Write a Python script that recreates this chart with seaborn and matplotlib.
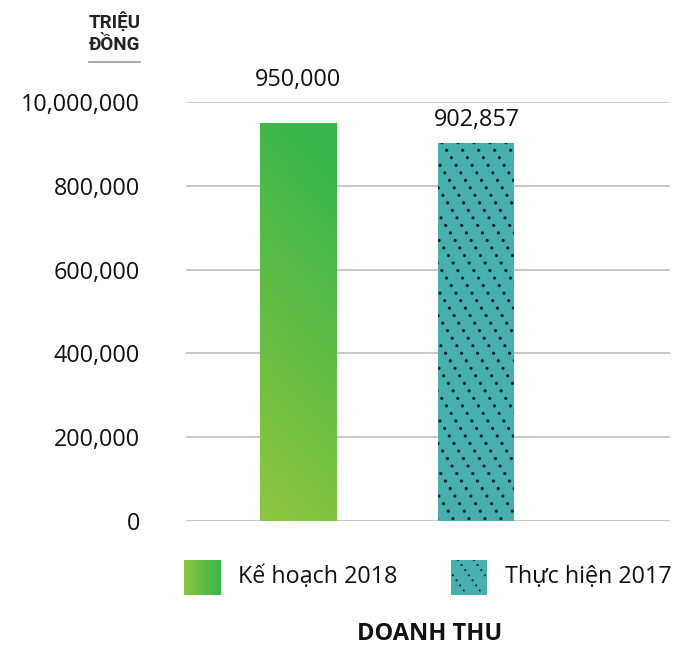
import numpy as np
import pandas as pd
import matplotlib
matplotlib.use("Agg")
import matplotlib.pyplot as plt
import seaborn as sns
from matplotlib.patches import Rectangle

# Data
categories = ["Kế hoạch 2018", "Thực hiện 2017"]
values = [950000, 902857]
value_labels = ["950,000", "902,857"]
ytick_values = [0, 200000, 400000, 600000, 800000, 1000000]
ytick_labels = ["0", "200,000", "400,000", "600,000", "800,000", "10,000,000"]
unit_label = "TRIỆU\nĐỒNG"
x_title = "DOANH THU"

GREEN_DARK = np.array([0x39, 0xB5, 0x4A]) / 255
GREEN_LIGHT = np.array([0x8D, 0xC6, 0x3F]) / 255
TEAL = "#47B0AE"
DOT = "#102826"
FONT = ["Open Sans", "DejaVu Sans"]
FS = 16.8

sns.set_theme(style="white")
plt.rcParams["font.family"] = FONT

W, H = 678, 649
fig = plt.figure(figsize=(W / 100, H / 100), dpi=100)
ax = fig.add_axes([186 / W, 1 - 521 / H, (670 - 186) / W, (521 - 102) / H])

df = pd.DataFrame({"cat": categories, "val": values})
sns.barplot(data=df, x="cat", y="val", ax=ax, width=0.426,
            palette=[TEAL, TEAL], hue="cat", legend=False, saturation=1)

ax.set_xlim(-0.627, 2.084)
ax.set_ylim(0, 1000000)
ax.set_yticks(ytick_values)
ax.set_yticklabels(ytick_labels, fontsize=FS, color="#111111")
ax.tick_params(axis="y", length=0, pad=33)
ax.set_xticks([])
ax.set_xlabel("")
ax.set_ylabel("")
for s in ax.spines.values():
    s.set_visible(False)
ax.grid(axis="y", color="#C8C8C8", linewidth=1.4)
ax.set_axisbelow(True)


def gradient_img(n=200, diagonal=True):
    yy, xx = np.mgrid[0:1:n * 1j, 0:1:n * 1j]
    if diagonal:
        t = np.clip(0.95 * yy + 0.2 * (1 - xx) - 0.12, 0, 1)
    else:
        t = 1 - xx
    img = GREEN_DARK[None, None, :] * (1 - t[..., None]) + GREEN_LIGHT[None, None, :] * t[..., None]
    return img


def dotted_hatch(target_ax, patch, spacing=16, slope=1.6, lw=2.4, gap=2.65):
    """Diagonal dotted lines clipped to a patch (display-pixel geometry)."""
    fig.canvas.draw()
    bb = patch.get_window_extent()
    inv = target_ax.transData.inverted()
    h = bb.height
    x0 = bb.x0 - h / slope - spacing
    xs = np.arange(x0, bb.x1 + spacing, spacing)
    for xs0 in xs:
        p1 = (xs0, bb.y1)
        p2 = (xs0 + h / slope, bb.y0)
        d = inv.transform([p1, p2])
        ln, = target_ax.plot(d[:, 0], d[:, 1], color=DOT, linewidth=lw,
                             dashes=(0.01, gap), dash_capstyle="round", zorder=3)
        ln.set_clip_path(patch)


bars = ax.patches
# green gradient on first bar
b0 = bars[0]
b0.set_facecolor("none")
b0.set_edgecolor("none")
x0b, y0b = b0.get_x(), b0.get_y()
im = ax.imshow(gradient_img(), extent=[x0b, x0b + b0.get_width(), y0b, y0b + b0.get_height()],
               origin="upper", aspect="auto", zorder=2)
im.set_clip_path(b0)
ax.set_xlim(-0.627, 2.084)
ax.set_ylim(0, 1000000)

# dotted hatch on second bar
bars[1].set_edgecolor("none")
dotted_hatch(ax, bars[1])

# value labels
offsets = [22, 8]
for b, lab, off in zip(bars, value_labels, offsets):
    ax.annotate(lab, (b.get_x() + b.get_width() / 2, b.get_height()),
                xytext=(0, off), textcoords="offset points",
                ha="center", va="bottom", fontsize=FS, color="#111111")

# unit label with underline
fig.text(115 / W, 1 - 33 / H, unit_label, ha="center", va="center",
         fontsize=13.5, fontweight="bold", color="#222222", linespacing=1.25,
         family=["Roboto", "DejaVu Sans"], stretch="condensed")
fig.add_artist(plt.Line2D([89 / W, 140 / W], [1 - 62 / H, 1 - 62 / H],
                          color="#AAAAAA", linewidth=1.5, transform=fig.transFigure))

# legend swatches
sw1 = fig.add_axes([184 / W, 1 - 595 / H, 36 / W, 35 / H])
sw1.imshow(gradient_img(diagonal=False), extent=[0, 1, 0, 1], aspect="auto")
sw1.set_axis_off()
sw2 = fig.add_axes([451 / W, 1 - 595 / H, 36 / W, 35 / H])
sw2.set_xlim(0, 1)
sw2.set_ylim(0, 1)
r = Rectangle((0, 0), 1, 1, facecolor=TEAL, edgecolor="none")
sw2.add_patch(r)
sw2.set_axis_off()
dotted_hatch(sw2, r, spacing=16, slope=1.4, lw=1.6, gap=2.8)

fig.text(238 / W, 1 - 577 / H, categories[0], ha="left", va="center",
         fontsize=FS, color="#111111")
fig.text(505 / W, 1 - 577 / H, categories[1], ha="left", va="center",
         fontsize=FS, color="#111111")

fig.text(430 / W, 1 - 634 / H, x_title, ha="center", va="center",
         fontsize=17, fontweight="bold", color="#111111")

fig.savefig("out.png", dpi=100, facecolor="white")
